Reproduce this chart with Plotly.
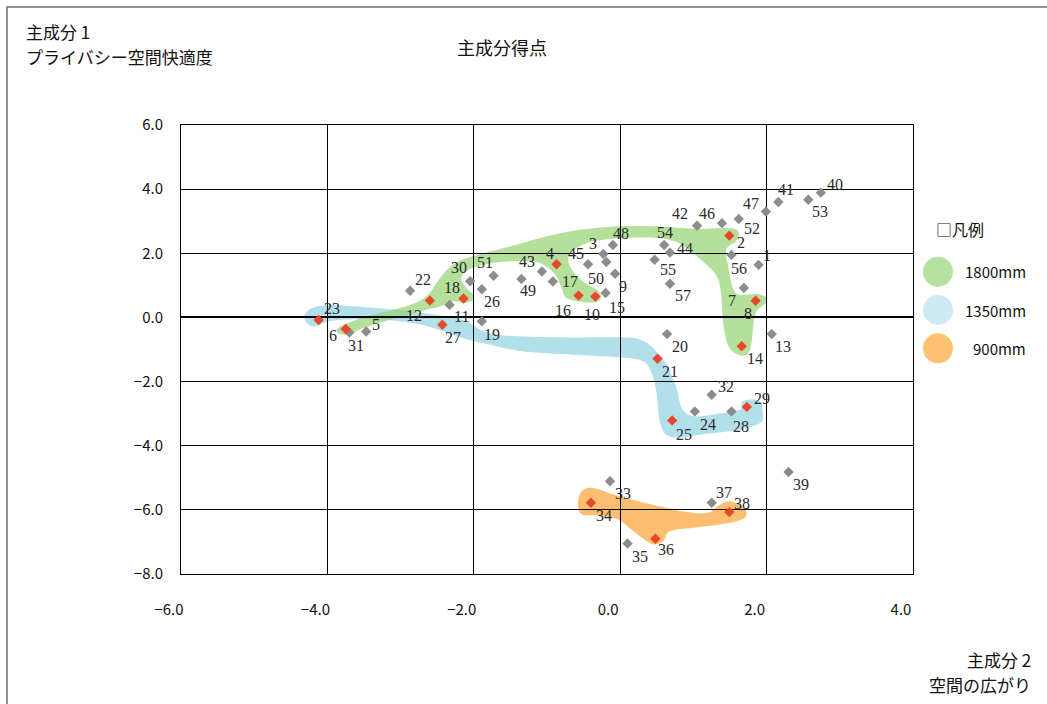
import plotly.graph_objects as go

FIG_W, FIG_H = 1047, 704
M_L, M_R, M_T, M_B = 181, 134, 125, 130

# ---- principal component scores of the 57 samples ----
sample_no = list(range(1, 58))
pc2_space = [1.89, 1.49, -0.23, -0.87, -3.47, -3.75, 1.69, 1.85, -0.07, -0.34,
             -2.33, -2.60, 2.07, 1.66, -0.20, -0.57, -0.92, -2.14, -1.89, 0.64,
             0.51, -2.87, -4.12, 1.02, 0.71, -1.89, -2.43, 1.52, 1.73, -2.05,
             -3.70, 1.25, -0.14, -0.40, 0.10, 0.48, 1.25, 1.49, 2.30, 2.74,
             2.16, 1.05, -1.07, 0.68, -0.44, 1.39, 1.99, -0.10, -1.35, -0.19,
             -1.73, 1.62, 2.57, 0.60, 0.47, 1.52, 0.68]
pc1_privacy = [1.64, 2.55, 1.98, 1.66, -0.44, -0.36, 0.92, 0.52, 1.36, 0.65,
               0.39, 0.53, -0.52, -0.90, 0.76, 0.68, 1.12, 0.59, -0.12, -0.52,
               -1.29, 0.83, -0.08, -2.93, -3.21, 0.88, -0.23, -2.93, -2.79, 1.13,
               -0.47, -2.41, -5.11, -5.78, -7.05, -6.90, -5.78, -6.07, -4.82, 3.89,
               3.60, 2.86, 1.43, 2.02, 1.66, 2.94, 3.30, 2.26, 1.20, 1.73,
               1.30, 3.07, 3.67, 2.26, 1.80, 1.95, 1.05]

# samples marked in red
highlighted = [2, 4, 6, 8, 10, 12, 14, 16, 18, 21, 23, 25, 27, 29, 34, 36, 38]

# ---- group outlines (score units) ----
group_names = ["1800mm", "1350mm", "900mm"]

green_x = [-3.87, -3.78, -3.56, -3.15, -2.83, -2.62, -2.51, -2.37, -2.19, -1.92,
           -1.46, -0.92, -0.46, 0.00, 0.45, 0.77, 1.09, 1.52, 1.62, 1.58,
           1.45, 1.48, 1.54, 1.63, 1.86, 1.98, 2.00, 1.86, 1.82, 1.79,
           1.73, 1.61, 1.48, 1.41, 1.38, 1.32, 1.13, 0.91, 0.72, 0.41,
           0.00, -0.37, -0.60, -0.71, -0.66, -0.51, -0.32, -0.26, -0.32, -0.51,
           -0.73, -0.80, -0.87, -1.01, -1.19, -1.55, -1.87, -2.10, -2.17, -2.12,
           -2.01, -2.02, -2.14, -2.28, -2.46, -2.65, -2.87, -3.19, -3.51, -3.69,
           -3.83]
green_y = [-0.38, -0.23, -0.04, 0.21, 0.42, 0.71, 1.07, 1.48, 1.77, 1.97,
           2.24, 2.58, 2.76, 2.84, 2.84, 2.80, 2.76, 2.78, 2.62, 2.37,
           2.12, 1.54, 0.91, 0.71, 0.73, 0.65, 0.48, 0.19, -0.23, -0.85,
           -1.16, -1.16, -0.90, -0.23, 0.71, 1.28, 1.74, 2.16, 2.39, 2.49,
           2.47, 2.37, 2.16, 1.85, 1.49, 1.12, 0.86, 0.65, 0.48, 0.48,
           0.60, 0.91, 1.28, 1.59, 1.74, 1.74, 1.64, 1.45, 1.23, 0.97,
           0.71, 0.52, 0.45, 0.50, 0.34, 0.24, 0.10, -0.10, -0.33, -0.52,
           -0.52]

blue_x = [-4.31, -4.19, -3.92, -3.37, -2.92, -2.46, -2.12, -1.87, -1.55, -0.87,
          0.00, 0.27, 0.45, 0.63, 0.77, 0.84, 1.00, 1.32, 1.63, 1.66,
          1.77, 1.91, 1.95, 1.91, 1.63, 1.18, 0.82, 0.63, 0.54, 0.50,
          0.43, 0.31, 0.04, -0.64, -1.32, -1.78, -2.10, -2.51, -2.78, -3.15,
          -3.60, -3.97, -4.17, -4.28]
blue_y = [0.08, 0.31, 0.38, 0.30, 0.20, 0.06, -0.10, -0.42, -0.57, -0.62,
          -0.62, -0.69, -0.95, -1.47, -2.20, -2.82, -3.08, -3.01, -2.88, -2.64,
          -2.56, -2.62, -3.03, -3.29, -3.50, -3.63, -3.74, -3.66, -3.24, -2.41,
          -1.73, -1.37, -1.25, -1.16, -1.06, -0.85, -0.68, -0.36, -0.20, -0.09,
          -0.06, -0.12, -0.28, -0.18]

orange_x = [-0.57, -0.51, -0.37, 0.00, 0.54, 0.91, 1.20, 1.36, 1.50, 1.66,
            1.73, 1.64, 1.36, 1.00, 0.68, 0.59, 0.47, 0.36, 0.18, -0.03,
            -0.28, -0.51, -0.57]
orange_y = [-5.63, -5.39, -5.32, -5.58, -5.89, -6.07, -6.09, -5.84, -5.73, -5.89,
            -6.12, -6.32, -6.46, -6.56, -6.67, -6.97, -7.08, -6.97, -6.67, -6.30,
            -6.18, -6.15, -5.94]

# ---- styling ----
FILL = {"1800mm": "rgba(148,211,114,0.7)",
        "1350mm": "rgba(144,211,226,0.7)",
        "900mm": "rgba(252,162,54,0.7)"}
KEY = {"1800mm": "#b5e29e", "1350mm": "#cdeaf2", "900mm": "#fec271"}
GRAY = "#8c8c8c"
RED = "#e8482a"
JP = "Noto Sans CJK JP"
SERIF = "Liberation Serif"

# label offsets from each marker, in pixels (right, down)
label_offset = {
    1: (8, -9), 2: (12, 7), 3: (-10, -10), 4: (-7, -11), 5: (10, -7),
    6: (-13, 7), 7: (-12, 13), 8: (-8, 13), 9: (8, 13), 10: (-3, 18),
    11: (12, 12), 12: (-16, 15), 13: (11, 12), 14: (13, 12), 15: (11, 14),
    16: (-15, 15), 17: (17, 0), 18: (-12, -11), 19: (10, 13), 20: (13, 12),
    21: (12, 13), 22: (13, -11), 23: (13, -11), 24: (13, 13), 25: (12, 14),
    26: (10, 12), 27: (11, 13), 28: (10, 15), 29: (15, -8), 30: (-11, -14),
    31: (7, 13), 32: (14, -8), 33: (13, 12), 34: (13, 13), 35: (12, 13),
    36: (11, 11), 37: (12, -10), 38: (13, -9), 39: (12, 12), 40: (14, -8),
    41: (8, -12), 42: (-17, -12), 43: (-15, -10), 44: (15, -4), 45: (-12, -11),
    46: (-15, -10), 47: (-15, -8), 48: (8, -11), 49: (7, 12), 50: (-10, 17),
    51: (-9, -13), 52: (13, 10), 53: (12, 12), 54: (1, -12), 55: (13, 10),
    56: (8, 14), 57: (13, 12),
}


def smooth_path(xs, ys):
    """Closed Catmull-Rom curve through the outline vertices, as an SVG path."""
    pts = list(zip(xs, ys))
    n = len(pts)
    d = f"M {pts[0][0]:.4f},{pts[0][1]:.4f}"
    for i in range(n):
        p0, p1, p2, p3 = pts[(i - 1) % n], pts[i], pts[(i + 1) % n], pts[(i + 2) % n]
        c1 = (p1[0] + (p2[0] - p0[0]) / 6, p1[1] + (p2[1] - p0[1]) / 6)
        c2 = (p2[0] - (p3[0] - p1[0]) / 6, p2[1] - (p3[1] - p1[1]) / 6)
        d += (f" C {c1[0]:.4f},{c1[1]:.4f} {c2[0]:.4f},{c2[1]:.4f}"
              f" {p2[0]:.4f},{p2[1]:.4f}")
    return d + " Z"


def px_x(px):
    return (px - M_L) / (FIG_W - M_L - M_R)


def px_y(py):
    return (FIG_H - M_B - py) / (FIG_H - M_T - M_B)


fig = go.Figure()

colors = [RED if n in highlighted else GRAY for n in sample_no]
order = sorted(range(len(sample_no)), key=lambda i: sample_no[i] in highlighted)
fig.add_trace(go.Scatter(
    x=[pc2_space[i] for i in order],
    y=[pc1_privacy[i] for i in order],
    mode="markers",
    marker=dict(symbol="diamond", size=8, color=[colors[i] for i in order],
                line=dict(width=0)),
    hoverinfo="skip", showlegend=False,
))

shapes = []
outlines = {"1350mm": (blue_x, blue_y), "1800mm": (green_x, green_y),
            "900mm": (orange_x, orange_y)}
for name in ["1350mm", "1800mm", "900mm"]:
    xs, ys = outlines[name]
    shapes.append(dict(type="path", xref="x", yref="y", layer="below",
                       path=smooth_path(xs, ys), fillcolor=FILL[name],
                       line=dict(width=0)))

# outer chart frame
shapes.append(dict(type="rect", xref="paper", yref="paper", layer="below",
                   x0=px_x(7), x1=px_x(1100), y0=px_y(760), y1=px_y(7),
                   line=dict(color="#6e6e6e", width=1.5), fillcolor="rgba(0,0,0,0)"))

annotations = []
for n, xv, yv in zip(sample_no, pc2_space, pc1_privacy):
    dx, dy = label_offset[n]
    annotations.append(dict(x=xv, y=yv, xref="x", yref="y", text=str(n),
                            showarrow=False, xshift=dx, yshift=-dy,
                            font=dict(family=SERIF, size=16, color="#2b2b2b")))


def paper_text(text, px, py, size, anchor):
    return dict(x=px_x(px), y=px_y(py), xref="paper", yref="paper", text=text,
                showarrow=False, xanchor=anchor, yanchor="middle",
                font=dict(family=JP, size=size, color="#111"))


# titles
annotations += [
    paper_text("主成分得点", 502, 47, 18, "center"),
    paper_text("主成分 1", 24, 32, 17, "left"),
    paper_text("プライバシー空間快適度", 24, 56, 17, "left"),
    paper_text("主成分 2", 1033, 659.5, 17, "right"),
    paper_text("空間の広がり", 1033, 684, 17, "right"),
    paper_text("□凡例", 934, 229, 16, "left"),
]

# group key: coloured discs with labels
key_rows = [271.7, 310.0, 348.3]
for name, row in zip(group_names, key_rows):
    shapes.append(dict(type="circle", xref="paper", yref="paper",
                       xsizemode="pixel", ysizemode="pixel",
                       xanchor=px_x(938), yanchor=px_y(row),
                       x0=-15, x1=15, y0=-15, y1=15,
                       fillcolor=KEY[name], line=dict(width=0)))
    annotations.append(paper_text(name, 1028, row, 15, "right"))

x_ticks = [-6, -4, -2, 0, 2, 4]
y_ticks = [-8, -6, -4, -2, 0, 2, 4, 6]

fig.update_layout(
    width=FIG_W, height=FIG_H,
    margin=dict(l=M_L, r=M_R, t=M_T, b=M_B),
    paper_bgcolor="white", plot_bgcolor="white",
    shapes=shapes, annotations=annotations,
    showlegend=False,
    xaxis=dict(range=[-6, 4], tickvals=x_ticks, tickformat=".1f",
               showgrid=True, gridcolor="black", gridwidth=1,
               zeroline=True, zerolinecolor="black", zerolinewidth=1,
               showline=True, linecolor="black", linewidth=1, mirror=True,
               ticks="", ticklabelshift=-12, ticklabelstandoff=22,
               tickfont=dict(family=JP, size=15, color="#111"),
               fixedrange=True),
    yaxis=dict(range=[-8, 6], tickvals=y_ticks, tickformat=".1f",
               showgrid=True, gridcolor="black", gridwidth=1,
               zeroline=True, zerolinecolor="black", zerolinewidth=2,
               showline=True, linecolor="black", linewidth=1, mirror=True,
               ticks="", ticklabelstandoff=14,
               tickfont=dict(family=JP, size=15, color="#111"),
               fixedrange=True),
)

fig.write_html("out.html")
